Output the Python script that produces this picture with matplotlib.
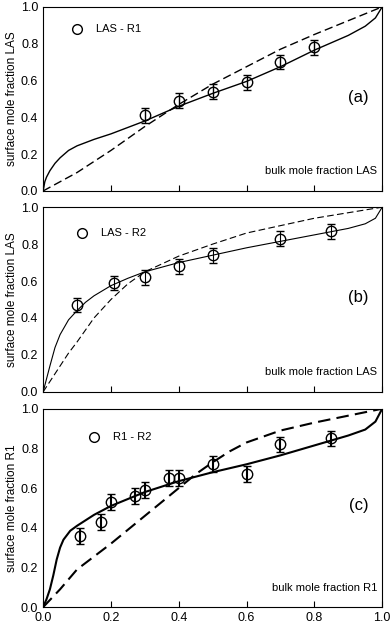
import numpy as np
import matplotlib.pyplot as plt

plt.rcParams['font.family'] = ['Liberation Sans', 'DejaVu Sans']

# panel (a): LAS - R1
xa = [0.3, 0.4, 0.5, 0.6, 0.7, 0.8]
ya = [0.41, 0.49, 0.54, 0.59, 0.70, 0.78]
ea = [0.04, 0.04, 0.04, 0.04, 0.04, 0.04]
xa_fit = [0.0, 0.005, 0.01, 0.02, 0.035, 0.05, 0.075, 0.1, 0.15, 0.2, 0.25, 0.3, 0.35, 0.4, 0.5, 0.6, 0.7, 0.8, 0.85, 0.9, 0.95, 0.98, 1.0]
ya_fit = [0.0, 0.05, 0.075, 0.11, 0.15, 0.18, 0.22, 0.245, 0.28, 0.31, 0.345, 0.38, 0.42, 0.46, 0.53, 0.595, 0.675, 0.765, 0.805, 0.845, 0.895, 0.94, 1.0]
xa_id = [0.0, 0.1, 0.2, 0.3, 0.4, 0.5, 0.6, 0.7, 0.8, 0.9, 1.0]
ya_id = [0.0, 0.10, 0.22, 0.35, 0.47, 0.58, 0.675, 0.77, 0.85, 0.925, 1.0]

# panel (b): LAS - R2
xb = [0.1, 0.21, 0.3, 0.4, 0.5, 0.7, 0.85]
yb = [0.47, 0.59, 0.62, 0.68, 0.74, 0.83, 0.87]
eb = [0.04, 0.04, 0.04, 0.04, 0.04, 0.04, 0.04]
xb_fit = [0.0, 0.01, 0.02, 0.035, 0.05, 0.075, 0.1, 0.125, 0.15, 0.2, 0.25, 0.3, 0.4, 0.5, 0.6, 0.7, 0.8, 0.9, 0.95, 0.98, 1.0]
yb_fit = [0.0, 0.07, 0.14, 0.24, 0.31, 0.39, 0.44, 0.485, 0.52, 0.575, 0.615, 0.65, 0.70, 0.74, 0.78, 0.815, 0.85, 0.885, 0.91, 0.94, 1.0]
xb_id = [0.0, 0.025, 0.05, 0.075, 0.1, 0.15, 0.2, 0.25, 0.3, 0.4, 0.5, 0.6, 0.7, 0.8, 0.9, 1.0]
yb_id = [0.0, 0.07, 0.14, 0.21, 0.27, 0.40, 0.50, 0.585, 0.65, 0.735, 0.80, 0.86, 0.90, 0.94, 0.97, 1.0]

# panel (c): R1 - R2
xc = [0.11, 0.17, 0.2, 0.27, 0.3, 0.37, 0.4, 0.5, 0.6, 0.7, 0.85]
yc = [0.36, 0.43, 0.53, 0.56, 0.59, 0.65, 0.65, 0.72, 0.67, 0.82, 0.85]
ec = [0.04, 0.04, 0.04, 0.04, 0.04, 0.04, 0.04, 0.04, 0.04, 0.04, 0.04]
xc_fit = [0.0, 0.01, 0.02, 0.03, 0.04, 0.05, 0.06, 0.08, 0.1, 0.15, 0.2, 0.3, 0.4, 0.5, 0.6, 0.7, 0.8, 0.9, 0.95, 0.98, 1.0]
yc_fit = [0.0, 0.04, 0.09, 0.16, 0.24, 0.30, 0.34, 0.385, 0.41, 0.465, 0.51, 0.58, 0.635, 0.68, 0.72, 0.765, 0.815, 0.865, 0.895, 0.935, 1.0]
xc_id = [0.0, 0.05, 0.1, 0.15, 0.2, 0.25, 0.3, 0.35, 0.4, 0.45, 0.5, 0.55, 0.6, 0.7, 0.8, 0.9, 1.0]
yc_id = [0.0, 0.09, 0.19, 0.255, 0.32, 0.39, 0.46, 0.53, 0.60, 0.67, 0.73, 0.785, 0.83, 0.89, 0.93, 0.965, 1.0]

panels = [
    (xa, ya, ea, xa_fit, ya_fit, xa_id, ya_id, 'LAS - R1', '(a)', 'surface mole fraction LAS', 'bulk mole fraction LAS', 0.10, 0.88, 0.11, 1.0),
    (xb, yb, eb, xb_fit, yb_fit, xb_id, yb_id, 'LAS - R2', '(b)', 'surface mole fraction LAS', 'bulk mole fraction LAS', 0.115, 0.86, 0.11, 0.8),
    (xc, yc, ec, xc_fit, yc_fit, xc_id, yc_id, 'R1 - R2', '(c)', 'surface mole fraction R1', 'bulk mole fraction R1', 0.15, 0.86, 0.095, 1.5),
]
boxes = [(0.11, 0.694, 0.865, 0.295), (0.11, 0.372, 0.865, 0.296), (0.11, 0.027, 0.865, 0.318)]

fig = plt.figure(figsize=(3.92, 6.24), dpi=100)

for i, (x, y, e, xf, yf, xi, yi, leg, tag, ylab, xlab, legx, legy, xlaby, lw) in enumerate(panels):
    ax = fig.add_axes(boxes[i])
    ax.plot(xf, yf, color='black', lw=lw)
    ax.plot(xi, yi, color='black', lw=lw, ls=(0, (6, 3)))
    ax.errorbar(x, y, yerr=e, fmt='o', mfc='none', mec='black', ecolor='black',
                ms=7.5, mew=1.0, capsize=3, elinewidth=lw, capthick=lw)
    # legend entry
    ax.plot([legx], [legy], 'o', mfc='none', mec='black', ms=7, mew=1.0)
    ax.text(legx + 0.055, legy, leg, fontsize=8, va='center')
    ax.text(0.93, 0.51, tag, fontsize=12, ha='center', va='center')
    ax.text(0.985, xlaby, xlab, fontsize=8, ha='right', va='center')
    ax.set_xlim(0, 1)
    ax.set_ylim(0, 1)
    ax.set_xticks([0.0, 0.2, 0.4, 0.6, 0.8, 1.0])
    ax.set_yticks([0.0, 0.2, 0.4, 0.6, 0.8, 1.0])
    ax.tick_params(axis='x', direction='in', length=4)
    ax.tick_params(axis='y', direction='in', length=0)
    ax.tick_params(labelsize=9)
    ax.set_ylabel(ylab, fontsize=8.5, labelpad=2)
    if i < 2:
        ax.set_xticklabels([])
    else:
        ax.set_xticklabels(['0.0', '0.2', '0.4', '0.6', '0.8', '1.0'])

fig.savefig('out.png', dpi=100)
